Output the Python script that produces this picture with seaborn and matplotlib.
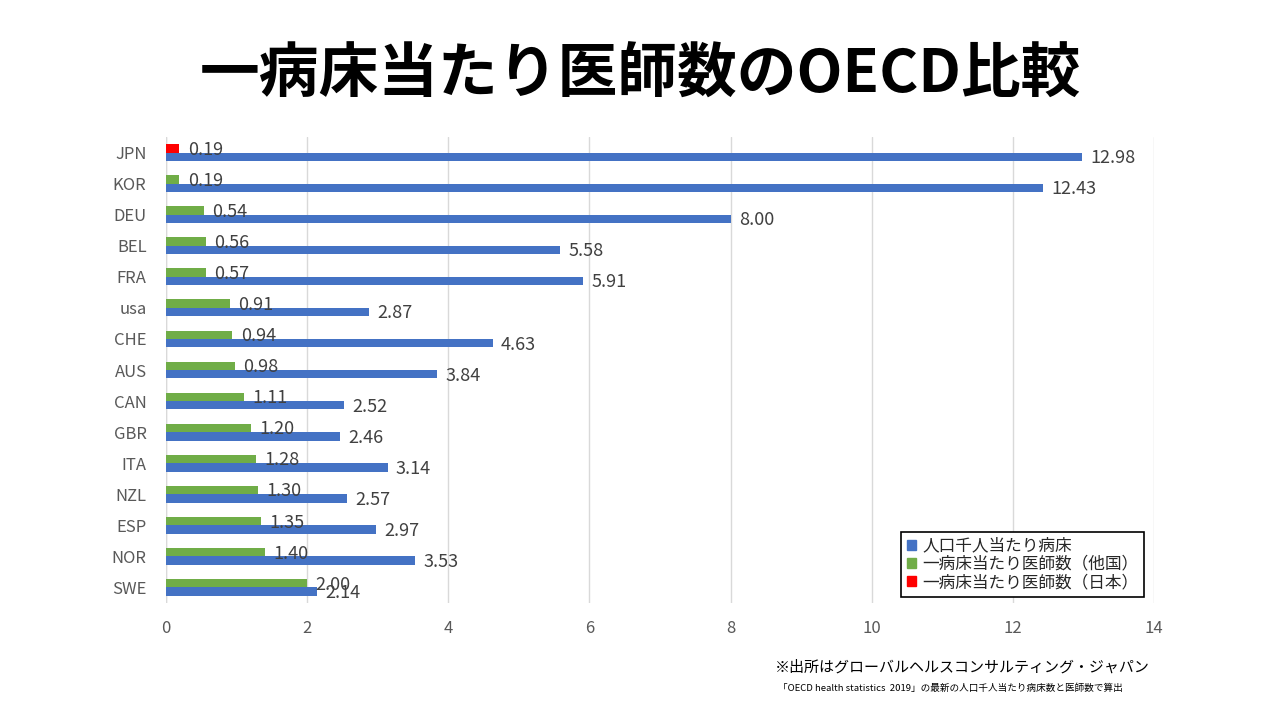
import matplotlib
matplotlib.use('Agg')
import matplotlib.pyplot as plt
import matplotlib.patches as patches
import pandas as pd
import seaborn as sns

countries = ['JPN', 'KOR', 'DEU', 'BEL', 'FRA', 'usa', 'CHE', 'AUS', 'CAN',
             'GBR', 'ITA', 'NZL', 'ESP', 'NOR', 'SWE']
doctors_per_bed = [0.19, 0.19, 0.54, 0.56, 0.57, 0.91, 0.94, 0.98, 1.11,
                   1.20, 1.28, 1.30, 1.35, 1.40, 2.00]
beds_per_1000 = [12.98, 12.43, 8.00, 5.58, 5.91, 2.87, 4.63, 3.84, 2.52,
                 2.46, 3.14, 2.57, 2.97, 3.53, 2.14]

series_doc = '一病床当たり医師数（他国）'
series_bed = '人口千人当たり病床'
series_jpn = '一病床当たり医師数（日本）'

df = pd.DataFrame({
    'country': countries * 2,
    'value': doctors_per_bed + beds_per_1000,
    'series': [series_doc] * len(countries) + [series_bed] * len(countries),
})

sns.set_theme(style='white')
plt.rcParams['font.family'] = ['Noto Sans CJK JP', 'DejaVu Sans']

BLUE = '#4472C4'
GREEN = '#70AD47'
RED = '#FF0000'

fig = plt.figure(figsize=(12.8, 7.2), dpi=100)
ax = fig.add_axes([0.1297, 0.1625, 0.7719, 0.6472])

sns.barplot(data=df, y='country', x='value', hue='series',
            hue_order=[series_doc, series_bed], order=countries,
            palette=[GREEN, BLUE], orient='h', width=0.54,
            saturation=1, linewidth=0, legend=False, ax=ax)

# japan's doctors bar in red
doc_container = ax.containers[0]
doc_container.patches[0].set_facecolor(RED)

for cont in ax.containers:
    for p in cont.patches:
        w = p.get_width()
        y = p.get_y() + p.get_height() / 2
        ax.annotate(f'{w:.2f}', xy=(w, y), xytext=(6, -1), textcoords='offset points',
                    ha='left', va='center', fontsize=13, color='#404040')

ax.set_xlim(0, 14)
ax.set_xticks(range(0, 15, 2))
ax.set_ylim(len(countries) - 0.5, -0.5)
ax.set_xlabel('')
ax.set_ylabel('')
ax.tick_params(axis='both', length=0, labelsize=12, labelcolor='#595959')
ax.tick_params(axis='x', pad=12)
ax.tick_params(axis='y', pad=14)
ax.grid(axis='x', color='#D9D9D9', linewidth=1)
ax.set_axisbelow(True)
for s in ax.spines.values():
    s.set_visible(False)
ax.axvline(0, color='#D9D9D9', linewidth=1, zorder=0)

handles = [patches.Patch(color=BLUE, label=series_bed),
           patches.Patch(color=GREEN, label=series_doc),
           patches.Patch(color=RED, label=series_jpn)]
leg = ax.legend(handles=handles, loc='lower right', bbox_to_anchor=(0.99, 0.013),
                frameon=True, fancybox=False, edgecolor='black', framealpha=1,
                fontsize=12, handlelength=0.55, handleheight=0.55, handletextpad=0.35,
                labelspacing=0.08, borderpad=0.35, borderaxespad=0)
leg.get_frame().set_linewidth(1.2)

fig.text(0.5, 0.895, '一病床当たり医師数のOECD比較', ha='center', va='center',
         fontsize=43, fontweight='bold', color='black')
fig.text(0.605, 0.073, '※出所はグローバルヘルスコンサルティング・ジャパン',
         ha='left', va='center', fontsize=10.8, color='black')
fig.text(0.608, 0.044, '「OECD health statistics  2019」の最新の人口千人当たり病床数と医師数で算出',
         ha='left', va='center', fontsize=6.9, color='black')

fig.savefig('out.png', dpi=100)
